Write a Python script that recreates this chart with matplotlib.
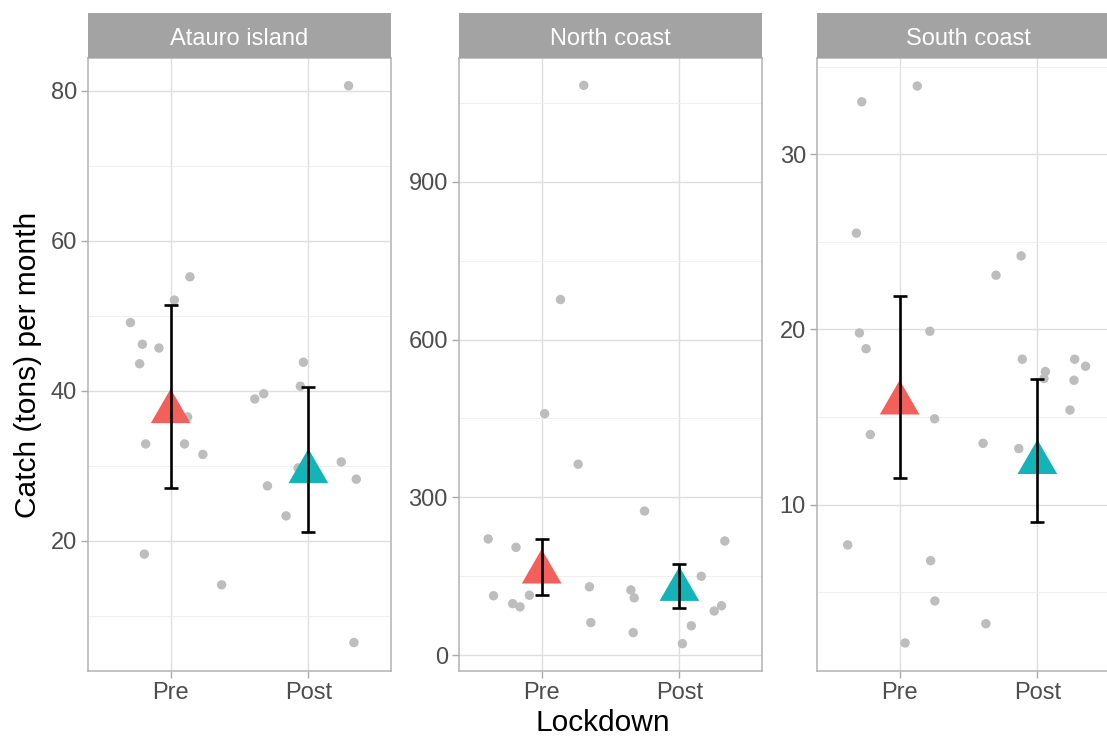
import numpy as np
import matplotlib.pyplot as plt

plt.rcParams['font.family'] = ['Liberation Sans', 'DejaVu Sans']

## data
facets = ['Atauro island', 'North coast', 'South coast']
periods = ['Pre', 'Post']

# jittered raw observations (x: 1 = Pre, 2 = Post)
atauro_x = [0.708, 0.795, 0.915, 0.775, 1.027, 1.140, 1.123, 0.819, 1.101, 1.234, 0.809, 1.370,
            2.292, 1.964, 1.942, 1.676, 1.611, 2.239, 1.925, 2.348, 1.703, 1.838, 2.331]
atauro_y = [49.1, 46.2, 45.7, 43.6, 52.1, 55.2, 36.5, 32.9, 32.9, 31.5, 18.2, 14.1,
            80.7, 43.8, 40.6, 39.6, 38.9, 30.5, 29.7, 28.2, 27.3, 23.3, 6.4]

north_x = [1.306, 1.137, 1.022, 1.265, 0.612, 0.814, 0.651, 0.790, 0.843, 0.911, 1.347, 1.357,
           1.747, 2.330, 2.159, 1.648, 1.672, 2.306, 2.253, 2.087, 1.665, 2.022]
north_y = [1083, 676, 459, 363, 221, 205, 113, 98, 92, 114, 130, 62,
           274, 217, 150, 124, 109, 94, 84, 56, 43, 22]

south_x = [1.128, 0.725, 0.686, 0.708, 1.220, 0.756, 1.254, 0.787, 0.623, 1.225, 1.256, 1.039,
           1.882, 1.700, 1.891, 2.271, 2.350, 2.058, 2.048, 2.266, 2.237, 1.606, 1.865, 1.626]
south_y = [33.9, 33.0, 25.5, 19.8, 19.9, 18.9, 14.9, 14.0, 7.7, 6.8, 4.5, 2.1,
           24.2, 23.1, 18.3, 18.3, 17.9, 17.6, 17.2, 17.1, 15.4, 13.5, 13.2, 3.2]

# summary: mean (triangle) and error bar ends, Pre then Post
atauro_mean = [37.2, 29.2]
atauro_low = [27.0, 21.2]
atauro_high = [51.4, 40.5]

north_mean = [158, 125]
north_low = [115, 90]
north_high = [220, 174]

south_mean = [15.8, 12.4]
south_low = [11.5, 9.0]
south_high = [21.9, 17.2]

## layout / style stuff
panels = [
    (atauro_x, atauro_y, atauro_mean, atauro_low, atauro_high,
     (2.6, 84.4), [20, 40, 60, 80], [10, 30, 50, 70]),
    (north_x, north_y, north_mean, north_low, north_high,
     (-30, 1135), [0, 300, 600, 900], [150, 450, 750, 1050]),
    (south_x, south_y, south_mean, south_low, south_high,
     (0.5, 35.5), [10, 20, 30], [5, 15, 25, 35]),
]
lefts = [88 / 1107, 459 / 1107, 817 / 1107]
pan_w = 303 / 1107
pan_b = 1 - 671 / 738
pan_h = (671 - 58) / 738
strip_h = 45.5 / 738

group_cols = ['#F3605B', '#13B3B8']
# triangle centred on its centroid (like R's pch 17)
tri = [(0, 1), (-0.866, -0.5), (0.866, -0.5)]

fig = plt.figure(figsize=(11.07, 7.38), dpi=100)

for i, (px, py, m, lo, hi, ylim, maj, mnr) in enumerate(panels):
    ax = fig.add_axes([lefts[i], pan_b, pan_w, pan_h])
    ax.scatter(px, py, s=46, color='#BDBDBD', edgecolors='none', zorder=3)
    xs = np.arange(1, len(periods) + 1)
    for k in range(len(periods)):
        ax.scatter(xs[k], m[k], marker=tri, s=33 ** 2, color=group_cols[k],
                   edgecolors='none', zorder=4)
    m_arr = np.array(m)
    yerr = np.array([m_arr - np.array(lo), np.array(hi) - m_arr])
    ax.errorbar(xs, m, yerr=yerr, fmt='none', ecolor='black', elinewidth=1.9,
                capsize=5, capthick=1.9, zorder=5)

    ax.set_xlim(0.4, 2.6)
    ax.set_ylim(*ylim)
    ax.set_xticks(xs)
    ax.set_xticklabels(periods)
    ax.set_yticks(maj)
    ax.set_yticks(mnr, minor=True)
    ax.grid(which='major', color='#DEDEDE', lw=1.0, zorder=0)
    ax.grid(which='minor', axis='y', color='#EDEDED', lw=0.6, zorder=0)
    ax.set_axisbelow(True)
    ax.tick_params(which='major', length=5, width=1, color='#AAAAAA', pad=3,
                   labelsize=17, labelcolor='#4D4D4D')
    ax.tick_params(which='minor', length=0)
    for sp in ax.spines.values():
        sp.set_color('#B3B3B3')
        sp.set_linewidth(1.1)

    # facet strip
    sax = fig.add_axes([lefts[i], pan_b + pan_h, pan_w, strip_h])
    sax.set_facecolor('#A3A3A3')
    sax.set_xticks([])
    sax.set_yticks([])
    for sp in sax.spines.values():
        sp.set_visible(False)
    sax.text(0.5, 0.47, facets[i], color='white', fontsize=17,
             ha='center', va='center_baseline', transform=sax.transAxes)

fig.text(603 / 1107, 1 - 723 / 738, 'Lockdown', fontsize=21.5, ha='center', va='center')
fig.text(28 / 1107, pan_b + pan_h / 2, 'Catch (tons) per month', fontsize=21.5,
         rotation=90, ha='center', va='center')

fig.savefig('out.png', dpi=100)
